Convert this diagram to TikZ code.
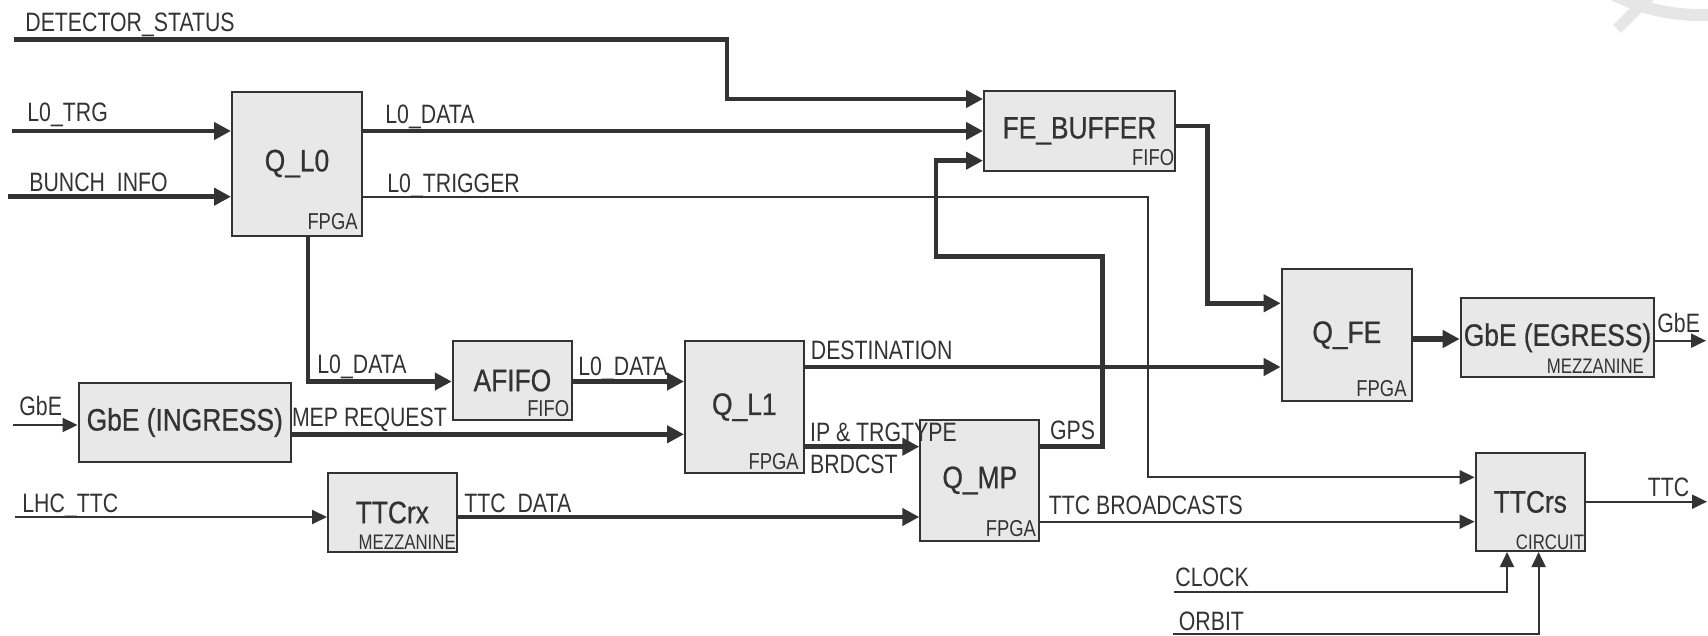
\documentclass[tikz,border=0pt]{standalone}
\usepackage{fontspec}
\setmainfont{Liberation Sans}[FakeStretch=0.8]
\newfontfamily\blockfont{Liberation Sans}[FakeStretch=0.85, FakeBold=0.7]
\usepackage{xcolor}
\usepackage{tikz}
\usetikzlibrary{arrows.meta}
\definecolor{ink}{HTML}{333333}
\definecolor{blockfill}{HTML}{E8E8E8}
\definecolor{wmgray}{HTML}{E6E6E6}

\begin{document}
\begin{tikzpicture}[x=0.5pt, y=-0.5pt,
    box/.style={draw=ink, fill=blockfill, line width=1pt, inner sep=0pt, text=ink, font=\blockfont\fontsize{15.5}{15.5}\selectfont},
    tag/.style={font=\fontsize{11.5}{11.5}\selectfont, text=ink, inner sep=0pt, anchor=base east},
    smalltag/.style={tag, font=\fontsize{10.5}{10.5}\selectfont},
    sig/.style={font=\fontsize{13.3}{13.3}\selectfont, text=ink, inner sep=0pt, anchor=base west},
    bus/.style={draw=ink, line width=2.25pt, -{Triangle[length=8.5pt, width=8.5pt]}},
    wire/.style={draw=ink, line width=1pt, -{Triangle[length=7.5pt, width=7pt]}}
]
\useasboundingbox (0,0) rectangle (1708,636);

% --- watermark ---
\begin{scope}
\clip (0,0) rectangle (1708,636);
\draw[draw=wmgray, line width=6pt] (1700,-178) circle[radius=193];
\draw[draw=wmgray, line width=5.5pt] (1617,29) -- (1655,-9);
\end{scope}

% --- Blocks ---
\node[box, minimum width=65pt, minimum height=72pt] (ql0) at (297,163.6) {Q\_L0};
\node[box, minimum width=95.5pt, minimum height=39.85pt] (febuf) at (1079.5,130.9) {FE\_BUFFER};
\node[box, minimum width=59.65pt, minimum height=39.5pt] (afifo) at (512.4,380.5) {AFIFO};
\node[box, minimum width=59.3pt, minimum height=66.15pt] (ql1) at (744.3,407.2) {Q\_L1};
\node[box, minimum width=106.25pt, minimum height=39.8pt] (gbein) at (184.8,422.5) {GbE (INGRESS)};
\node[box, minimum width=64.3pt, minimum height=39.8pt] (ttcrx) at (392.3,512.5) {TTCrx};
\node[box, minimum width=59.5pt, minimum height=60.35pt] (qmp) at (979.8,480.4) {Q\_MP};
\node[box, minimum width=65.15pt, minimum height=65.85pt] (qfe) at (1346.8,335.2) {Q\_FE};
\node[box, minimum width=96.8pt, minimum height=39.5pt] (gbeeg) at (1557.5,337.8) {GbE (EGRESS)};
\node[box, minimum width=54.7pt, minimum height=49.15pt] (ttcrs) at (1530.3,501.9) {TTCrs};

% block types
\node[tag] (ql0t) at ([shift={(-5,-7.5)}]ql0.south east) {FPGA};
\node[tag] (ql1t) at ([shift={(-5.5,-5)}]ql1.south east) {FPGA};
\node[tag] (qmpt) at ([shift={(-4,-5.5)}]qmp.south east) {FPGA};
\node[tag] (qfet) at ([shift={(-6,-6)}]qfe.south east) {FPGA};
\node[tag] (febuft) at ([shift={(-1.5,-6.5)}]febuf.south east) {FIFO};
\node[tag] (afifot) at ([shift={(-3.5,-5)}]afifo.south east) {FIFO};
\node[smalltag] (ttcrxt) at ([shift={(-1.5,-4)}]ttcrx.south east) {MEZZANINE};
\node[smalltag] (gbeegt) at ([shift={(-11,-4.5)}]gbeeg.south east) {MEZZANINE};
\node[smalltag] (ttcrst) at ([shift={(-1.5,-3)}]ttcrs.south east) {CIRCUIT};

% --- Free ends and bends ---
\coordinate (dsIn) at (14,39.3);
\coordinate (dsBend) at (727,99);
\coordinate (trgIn) at (11.5,131);
\coordinate (bunchIn) at (8.4,196.7);
\coordinate (gbeIn) at (13.4,425);
\coordinate (lhcIn) at (14.5,517);
\coordinate (trgDown) at (1148,477.3);
\coordinate (l0Bend) at (308,381.5);
\coordinate (mepY) at (0,434.3);
\coordinate (destY) at (0,367);
\coordinate (ipY) at (0,446.7);
\coordinate (gpsUp) at (1102.5,256.7);
\coordinate (gpsIn) at (936,160.7);
\coordinate (bcY) at (0,521.7);
\coordinate (feY) at (0,126);
\coordinate (feDown) at (1207.5,303.3);
\coordinate (egY) at (0,339);
\coordinate (gbeOut) at (1706,340.7);
\coordinate (ttcOut) at (1707,501.7);
\coordinate (clkIn) at (1174,591.7);
\coordinate (clkUp) at (1507,591.7);
\coordinate (orbIn) at (1173,634);
\coordinate (orbUp) at (1538.6,634);

% --- Connections ---
\draw[bus] (dsIn) -| (dsBend) -- (febuf.west |- dsBend);
\draw[bus] (trgIn) -- (ql0.west |- trgIn);
\draw[bus] (bunchIn) -- (ql0.west |- bunchIn);
\draw[bus] (ql0.east |- trgIn) -- (febuf.west |- trgIn);
\draw[wire] (ql0.east |- bunchIn) -| (trgDown) -- (ttcrs.west |- trgDown);
\draw[bus] (ql0.south -| l0Bend) |- (afifo.west |- l0Bend);
\draw[bus] (afifo.east |- l0Bend) -- (ql1.west |- l0Bend);
\draw[wire] (gbeIn) -- (gbein.west |- gbeIn);
\draw[bus] (gbein.east |- mepY) -- (ql1.west |- mepY);
\draw[wire] (lhcIn) -- (ttcrx.west |- lhcIn);
\draw[bus] (ttcrx.east |- lhcIn) -- (qmp.west |- lhcIn);
\draw[bus] (ql1.east |- destY) -- (qfe.west |- destY);
\draw[bus] (ql1.east |- ipY) -- (qmp.west |- ipY);
\draw[bus] (qmp.east |- ipY) -| (gpsUp) -| (gpsIn) -- (febuf.west |- gpsIn);
\draw[wire] (qmp.east |- bcY) -- (ttcrs.west |- bcY);
\draw[bus] (febuf.east |- feY) -| (feDown) -- (qfe.west |- feDown);
\draw[bus, line width=3pt] (qfe.east |- egY) -- (gbeeg.west |- egY);
\draw[wire] (gbeeg.east |- gbeOut) -- (gbeOut);
\draw[wire] (ttcrs.east |- ttcOut) -- (ttcOut);
\draw[wire] (clkIn) -- (clkUp) -- (ttcrs.south -| clkUp);
\draw[wire] (orbIn) -- (orbUp) -- (ttcrs.south -| orbUp);

% --- Signal names ---
\node[sig] (dsLbl) at (25,31.7) {DETECTOR\_STATUS};
\node[sig] (trgLbl) at (27,121.7) {L0\_TRG};
\node[sig] (bunchLbl) at (29,191.7) {BUNCH\_INFO};
\node[sig] (l0dLbl) at (385,124) {L0\_DATA};
\node[sig] (l0tLbl) at (387,192.7) {L0\_TRIGGER};
\node[sig] (l0dLblB) at (317,373.3) {L0\_DATA};
\node[sig] (l0dLblC) at (578,375) {L0\_DATA};
\node[sig] (gbeInLbl) at (19,415) {GbE};
\node[sig] (mepLbl) at (291.6,426) {MEP REQUEST};
\node[sig] (lhcLbl) at (22,512.3) {LHC\_TTC};
\node[sig] (ttcdLbl) at (464,512.3) {TTC\_DATA};
\node[sig] (destLbl) at (810.5,359.3) {DESTINATION};
\node[sig] (ipLbl) at (809.7,441.7) {IP \& TRGTYPE};
\node[sig] (brdLbl) at (809.7,473.3) {BRDCST};
\node[sig] (gpsLbl) at (1049.7,439) {GPS};
\node[sig] (bcLbl) at (1048.5,514) {TTC BROADCASTS};
\node[sig] (gbeOutLbl) at (1657,333) {GbE};
\node[sig] (ttcLbl) at (1647.5,496) {TTC};
\node[sig] (clkLbl) at (1175,586.7) {CLOCK};
\node[sig] (orbLbl) at (1178.5,630) {ORBIT};

\end{tikzpicture}
\end{document}
